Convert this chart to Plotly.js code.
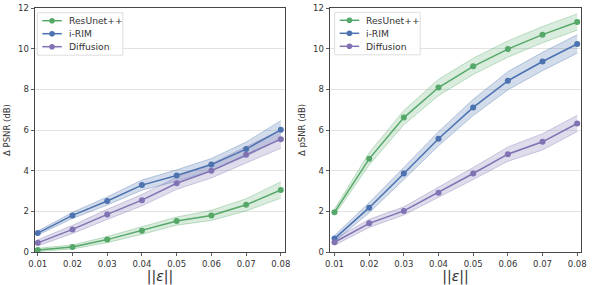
<!DOCTYPE html>
<html><head><meta charset="utf-8">
<script src="https://cdn.plot.ly/plotly-3.0.1.min.js"></script>
<style>html,body{margin:0;padding:0;background:#fff}#chart{width:598px;height:285px}</style>
</head><body><div id="chart"></div>
<script>
const eps = [0.01, 0.02, 0.03, 0.04, 0.05, 0.06, 0.07, 0.08];
const seriesNames = ["ResUnet++", "i-RIM", "Diffusion"];
const seriesColors = ["#55a868", "#4c72b0", "#8172b3"];
const seriesFill = ["rgba(85,168,104,0.22)", "rgba(76,114,176,0.25)", "rgba(129,114,179,0.25)"];
const seriesEdge = ["rgba(85,168,104,0.35)", "rgba(76,114,176,0.35)", "rgba(129,114,179,0.35)"];

// Left panel (Δ PSNR)
const psnrResUnet = [0.10, 0.25, 0.61, 1.05, 1.52, 1.80, 2.32, 3.05];
const psnrIRIM    = [0.93, 1.80, 2.51, 3.29, 3.76, 4.30, 5.06, 6.01];
const psnrDiff    = [0.45, 1.11, 1.85, 2.55, 3.38, 3.99, 4.78, 5.55];
const psnrResUnetStd = [0.08, 0.10, 0.15, 0.18, 0.20, 0.25, 0.30, 0.40];
const psnrIRIMStd    = [0.10, 0.15, 0.20, 0.25, 0.28, 0.30, 0.35, 0.45];
const psnrDiffStd    = [0.15, 0.20, 0.25, 0.28, 0.30, 0.35, 0.40, 0.45];

// Right panel (Δ pSNR)
const psnr2ResUnet = [1.96, 4.58, 6.61, 8.09, 9.13, 9.98, 10.69, 11.31];
const psnr2IRIM    = [0.66, 2.18, 3.86, 5.57, 7.11, 8.42, 9.37, 10.23];
const psnr2Diff    = [0.48, 1.41, 2.02, 2.92, 3.86, 4.81, 5.42, 6.32];
const psnr2ResUnetStd = [0.15, 0.30, 0.35, 0.40, 0.40, 0.40, 0.40, 0.40];
const psnr2IRIMStd    = [0.15, 0.25, 0.30, 0.35, 0.40, 0.45, 0.45, 0.45];
const psnr2DiffStd    = [0.15, 0.20, 0.20, 0.25, 0.30, 0.35, 0.40, 0.40];

const yTicks = [0, 2, 4, 6, 8, 10, 12];
const xTickText = ["0.01", "0.02", "0.03", "0.04", "0.05", "0.06", "0.07", "0.08"];

const W = 598, H = 285;
const px = v => v / W, py = v => 1 - v / H;

const panels = [
  {xa: "x", ya: "y", means: [psnrResUnet, psnrIRIM, psnrDiff], stds: [psnrResUnetStd, psnrIRIMStd, psnrDiffStd]},
  {xa: "x2", ya: "y2", means: [psnr2ResUnet, psnr2IRIM, psnr2Diff], stds: [psnr2ResUnetStd, psnr2IRIMStd, psnr2DiffStd]}
];

const traces = [];
panels.forEach(p => {
  p.means.forEach((m, i) => {
    const s = p.stds[i];
    const lo = m.map((v, k) => v - s[k]);
    const hi = m.map((v, k) => v + s[k]);
    traces.push({x: eps, y: lo, xaxis: p.xa, yaxis: p.ya, mode: "lines", line: {color: seriesEdge[i], width: 1}, showlegend: false, hoverinfo: "skip"});
    traces.push({x: eps, y: hi, xaxis: p.xa, yaxis: p.ya, mode: "lines", fill: "tonexty", fillcolor: seriesFill[i], line: {color: seriesEdge[i], width: 1}, showlegend: false, hoverinfo: "skip"});
  });
  p.means.forEach((m, i) => {
    traces.push({x: eps, y: m, xaxis: p.xa, yaxis: p.ya, mode: "lines+markers", name: seriesNames[i],
      line: {color: seriesColors[i], width: 1.5}, marker: {color: seriesColors[i], size: 6}, showlegend: false});
  });
});

const font = {family: "DejaVu Sans, sans-serif", size: 8.5, color: "#333"};
function xaxis(domain, range) {
  return {domain, range, tickvals: eps, ticktext: xTickText, ticks: "outside", ticklen: 3.5, tickwidth: 0.8, tickcolor: "#333",
    showline: true, linecolor: "#333", linewidth: 0.9, mirror: true, showgrid: false, zeroline: false, automargin: false,
    tickfont: font, title: {text: "||<i>ε</i>||", font: {family: "DejaVu Sans, sans-serif", size: 14, color: "#333"}, standoff: 4}};
}
function yaxis(domain, anchor, title) {
  return {domain, range: [0, 12], anchor, tickvals: yTicks, ticks: "outside", ticklen: 3.5, tickwidth: 0.8, tickcolor: "#333",
    showline: true, linecolor: "#333", linewidth: 0.9, mirror: true, showgrid: true, gridcolor: "#e3e3e3", gridwidth: 1, zeroline: false,
    automargin: false, tickfont: font, title: {text: title, font: {family: "DejaVu Sans, sans-serif", size: 8.5, color: "#333"}, standoff: 6}};
}

// custom compact legends (one per panel)
const shapes = [], annotations = [];
const legendOrigins = [[37.3, 12.7], [334.7, 12.3]];
legendOrigins.forEach(([lx, ly]) => {
  shapes.push({type: "rect", xref: "paper", yref: "paper", x0: px(lx), x1: px(lx + 85.5), y0: py(ly), y1: py(ly + 42.5),
    line: {color: "#d6d6d6", width: 0.8}, fillcolor: "rgba(255,255,255,0.85)", layer: "above"});
  seriesNames.forEach((name, i) => {
    const yy = ly + 8 + i * 13;
    shapes.push({type: "line", xref: "paper", yref: "paper", x0: px(lx + 5), x1: px(lx + 24.5), y0: py(yy), y1: py(yy),
      line: {color: seriesColors[i], width: 1.5}, layer: "above"});
    shapes.push({type: "circle", xref: "paper", yref: "paper", x0: px(lx + 14.75 - 2.8), x1: px(lx + 14.75 + 2.8), y0: py(yy - 2.8), y1: py(yy + 2.8),
      line: {color: seriesColors[i], width: 0}, fillcolor: seriesColors[i], layer: "above"});
    annotations.push({text: name, xref: "paper", yref: "paper", x: px(lx + 29.5), y: py(yy), xanchor: "left", yanchor: "middle",
      showarrow: false, font: {family: "DejaVu Sans, sans-serif", size: 9.2, color: "#333"}});
  });
});

const layout = {
  width: W, height: H, margin: {l: 0, r: 0, t: 0, b: 0}, paper_bgcolor: "#fff", plot_bgcolor: "#fff",
  showlegend: false,
  xaxis: xaxis([px(35), px(285)], [0.0092, 0.0812]),
  yaxis: yaxis([1 - 252 / H, 1 - 8 / H], "x", "Δ PSNR (dB)"),
  xaxis2: Object.assign(xaxis([px(330), px(581)], [0.0087, 0.0811]), {anchor: "y2"}),
  yaxis2: yaxis([1 - 252 / H, 1 - 8 / H], "x2", "Δ pSNR (dB)"),
  shapes, annotations
};
layout.xaxis.anchor = "y";
Plotly.newPlot("chart", traces, layout, {staticPlot: true, displayModeBar: false});
</script></body></html>
